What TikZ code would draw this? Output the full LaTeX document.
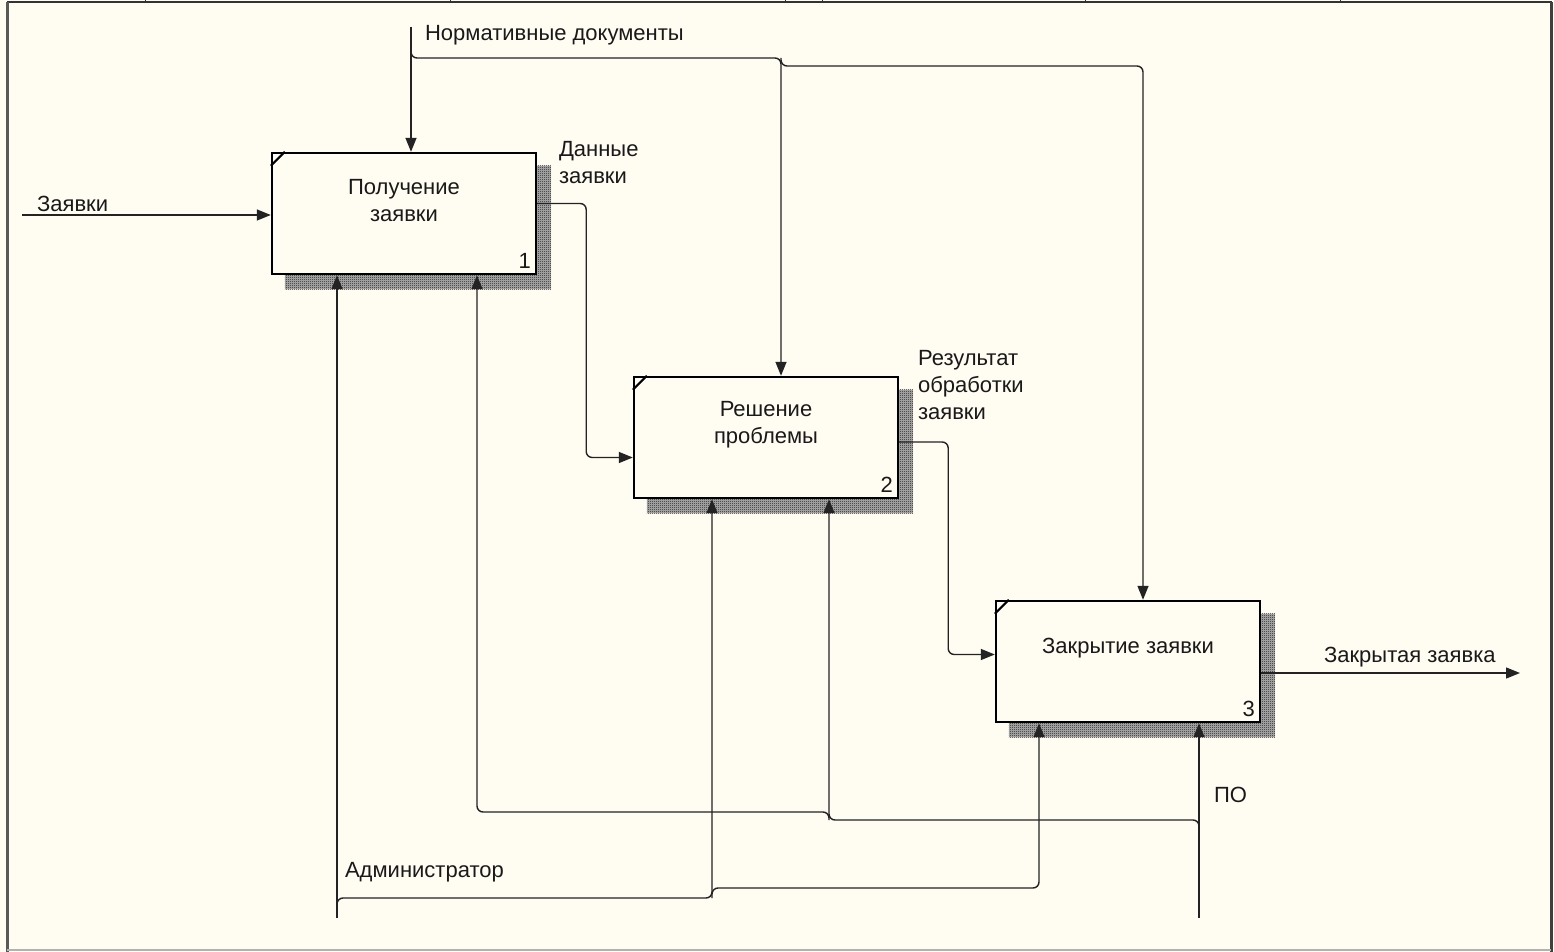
\documentclass[tikz,border=0pt]{standalone}
\usepackage{fontspec}
\setmainfont{Liberation Sans}
\usetikzlibrary{arrows.meta,patterns,backgrounds}
\definecolor{PaperCol}{RGB}{255,252,242}
\definecolor{LineCol}{RGB}{35,35,35}
\pgfdeclarepatternformonly{idefshade}{\pgfpointorigin}{\pgfpoint{1pt}{1pt}}{\pgfpoint{1pt}{1pt}}{%
  \pgfpathrectangle{\pgfpointorigin}{\pgfpoint{0.5pt}{0.5pt}}%
  \pgfpathrectangle{\pgfpoint{0.5pt}{0.5pt}}{\pgfpoint{0.5pt}{0.5pt}}%
  \pgfusepath{fill}}
\tikzset{
  func/.style={draw=black,line width=1.2pt,fill=PaperCol,minimum width=132pt,minimum height=60.5pt,inner sep=0pt},
  ftext/.style={align=center,text=black!90,font=\fontsize{11}{13.5}\selectfont},
  lbl/.style={anchor=west,align=left,text=black!90,font=\fontsize{11}{13.5}\selectfont},
  arr/.style={draw=LineCol,line width=0.7pt,rounded corners=3pt,-{Triangle[length=7pt,width=5.5pt]}},
}

\begin{document}
\begin{tikzpicture}[x=0.5pt,y=-0.5pt]
            \useasboundingbox (0,0) rectangle (1554,952);

            \node[func] (b1) at (404,213.5) {};
            \node[func] (b2) at (766,437.5) {};
            \node[func] (b3) at (1128,661.5) {};

            \node[ftext] (t1) at ([yshift=-24.5pt]b1.north) {Получение\\заявки};
            \node[ftext] (t2) at ([yshift=-24.5pt]b2.north) {Решение\\проблемы};
            \node[ftext] (t3) at ([yshift=-24pt]b3.north) {Закрытие заявки};

            \node[ftext,anchor=south east,inner sep=3pt] (n1) at (b1.south east) {1};
            \node[ftext,anchor=south east,inner sep=3pt] (n2) at (b2.south east) {2};
            \node[ftext,anchor=south east,inner sep=3pt] (n3) at (b3.south east) {3};

            \foreach \b in {b1,b2,b3}
                \draw[line width=1pt] ([yshift=-7pt]\b.north west) -- ([xshift=7pt]\b.north west);

            \begin{scope}[on background layer]
                \fill[PaperCol] (0,0) rectangle (1554,952);
                \foreach \b in {b1,b2,b3}
                    \fill[black!30,postaction={pattern=idefshade,pattern color=black!90}] ([shift={(7pt,-7pt)}]\b.south west) rectangle ([shift={(7pt,-7pt)}]\b.north east);
            \end{scope}

            \draw[line width=1pt,black!80] (7,2) -- (1552,2);
            \draw[line width=1.5pt,black!65] (7,2) -- (7,952);
            \draw[line width=1.5pt,black!75] (1551,2) -- (1551,952);
            \draw[line width=1pt,black!30] (7,950) -- (1551,950);
            \foreach \x in {145,450,785,822,1085,1340}
                \draw[black!80] (\x,0) -- (\x,2);

            \coordinate (zin) at (22,215);
            \coordinate (ndtop) at (411,27);
            \coordinate (ndA) at (781,58);
            \coordinate (ndB) at (1143,66);
            \coordinate (zout) at (1520,673);
            \coordinate (adm) at (337,918);
            \coordinate (admA) at (712,898);
            \coordinate (admB) at (1039,888);
            \coordinate (po) at (1199,918);
            \coordinate (poA) at (829,820);
            \coordinate (poB) at (477,812);

            \draw[arr] (zin) -- (zin -| b1.west);
            \node[lbl] (lz) at (30,204) {Заявки};

            \draw[arr] (ndtop) -- (ndtop |- b1.north);
            \draw[arr] (411,45) -- (411,58) -- (ndA) -- (ndA |- b2.north);
            \draw[arr] (ndA) -- (781,66) -- (ndB) -- (ndB |- b3.north);
            \node[lbl] (lnd) at (418,35) {Нормативные документы};

            \draw[arr] ([yshift=5pt]b1.east) -- ++(49,0) |- ([yshift=-10pt]b2.west);
            \node[lbl] (ld) at (552,163) {Данные\\заявки};

            \draw[arr] ([yshift=-2.25pt]b2.east) -- ++(49,0) |- ([yshift=3.5pt]b3.west);
            \node[lbl] (lr) at (911,385) {Результат\\обработки\\заявки};

            \draw[arr] ([yshift=-5.75pt]b3.east) -- (zout);
            \node[lbl] (lzz) at (1317,657) {Закрытая заявка};

            \draw[arr] (adm) -- (adm |- b1.south);
            \draw[arr] (337,908) -- (337,898) -- (admA) -- (admA |- b2.south);
            \draw[arr] (admA) -- (712,888) -- (admB) -- (admB |- b3.south);
            \node[lbl] (la) at (338,872) {Администратор};

            \draw[arr] (po) -- (po |- b3.south);
            \draw[arr] (1199,830) -- (1199,820) -- (poA) -- (poA |- b2.south);
            \draw[arr] (poA) -- (829,812) -- (poB) -- (poB |- b1.south);
            \node[lbl] (lpo) at (1207,795) {ПО};
\end{tikzpicture}
\end{document}
